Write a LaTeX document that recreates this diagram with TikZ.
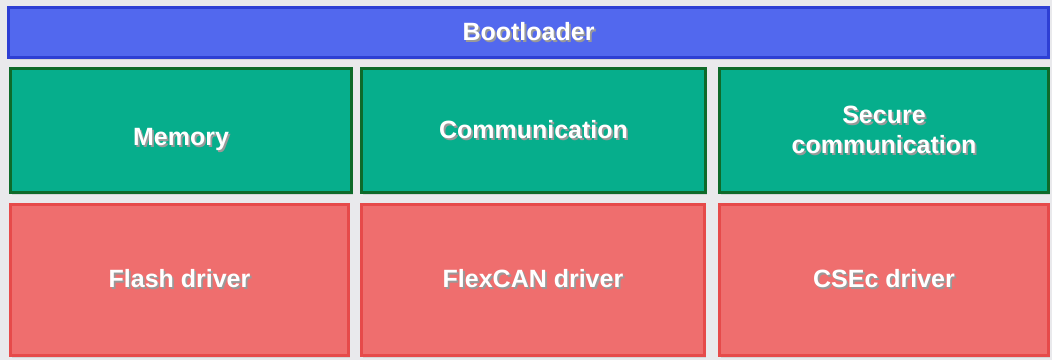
\documentclass[tikz,border=0pt]{standalone}
\usepackage{fontspec}
\setmainfont{Liberation Sans}
\usetikzlibrary{shadows}

\definecolor{bootfill}{HTML}{5268EE}
\definecolor{bootline}{HTML}{2E3FD4}
\definecolor{svcfill}{HTML}{06AE8C}
\definecolor{svcline}{HTML}{0E6A2A}
\definecolor{drvfill}{HTML}{EF6E6E}
\definecolor{drvline}{HTML}{E64A4A}
\definecolor{backgr}{HTML}{E9E9EC}

% white label with a soft shadow under it
\newcommand{\shtext}[1]{\leavevmode\rlap{\kern1.8pt\raisebox{-2pt}{\textcolor{black!40}{#1}}}#1}

\tikzset{
  layer/.style = {rectangle, draw, line width=3pt, inner sep=0pt, outer sep=0pt,
                  text=white, align=center,
                  font=\bfseries\fontsize{25}{30}\selectfont,
                  drop shadow={opacity=0.2, shadow xshift=1pt, shadow yshift=-2.5pt}},
  boot/.style   = {layer, fill=bootfill, draw=bootline},
  svc/.style    = {layer, fill=svcfill, draw=svcline},
  drv/.style    = {layer, fill=drvfill, draw=drvline}
}

\begin{document}
\begin{tikzpicture}[x=1pt, y=-1pt]
	\def \top{130.5}  % middle row
	\def \bot{280}    % bottom row

	\fill[backgr] (0,0) rectangle (1052,360);
	\useasboundingbox (0,0) rectangle (1052,360);

	% Bootloader
	\node[boot, minimum width=1040, minimum height=50] (boot) at (528.5,32.5) {\shtext{Bootloader}};

	% Services
	\node[svc, minimum width=341, minimum height=124, text height=30pt, text depth=0pt] (mem) at (181,\top) {\shtext{Memory}};
	\node[svc, minimum width=344, minimum height=124] (comm) at (533.5,\top) {\shtext{Communication}};
	\node[svc, minimum width=329, minimum height=124] (sec)  at (884,\top)   {\shtext{Secure}\\\shtext{communication}};

	% Drivers
	\node[drv, minimum width=338, minimum height=151] (flash)   at (179.5,\bot) {\shtext{Flash driver}};
	\node[drv, minimum width=343, minimum height=151] (flexcan) at (533,\bot)   {\shtext{FlexCAN driver}};
	\node[drv, minimum width=329, minimum height=151] (csec)    at (884,\bot)   {\shtext{CSEc driver}};

\end{tikzpicture}
\end{document}
